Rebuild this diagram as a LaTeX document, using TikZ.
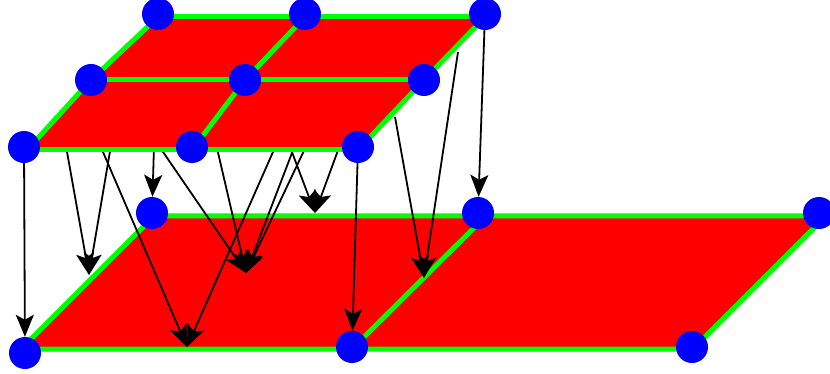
\documentclass[tikz,border=0pt]{standalone}
\usepackage{xcolor}
\usepackage{tikz}
\usetikzlibrary{arrows.meta}
\definecolor{facered}{RGB}{255,0,0}
\definecolor{edgegreen}{RGB}{0,255,0}
\definecolor{dotblue}{RGB}{0,0,255}
\pgfdeclarelayer{back}
\pgfdeclarelayer{front}
\pgfsetlayers{back,main,front}

\begin{document}
\begin{tikzpicture}[x=1pt, y=-1pt, >={Stealth[length=22pt, width=18pt, inset=5pt]},
    dot/.style={circle, fill=dotblue, minimum size=32pt, inner sep=0pt},
    map/.style={->, line width=1.8pt},
    cell/.style={fill=facered},
    rim/.style={draw=edgegreen, line width=5pt, line join=round}]
  \useasboundingbox (0,0) rectangle (830,374);

  % corners of the two complexes
  \coordinate (bf1) at (21,349); \coordinate (bf2) at (352,349); \coordinate (bf3) at (693,349);
  \coordinate (bb1) at (154,216); \coordinate (bb2) at (486,216); \coordinate (bb3) at (826,216);
  \coordinate (tf1) at (27,150); \coordinate (tf2) at (192,150); \coordinate (tf3) at (358,150);
  \coordinate (tm1) at (91,80); \coordinate (tm2) at (245,80); \coordinate (tm3) at (424,80);
  \coordinate (tb1) at (158,17); \coordinate (tb2) at (305,17); \coordinate (tb3) at (485,17);

  \begin{pgfonlayer}{back}
    \fill[cell] (bf1) -- (bf3) -- (bb3) -- (bb1) -- cycle;
    \draw[rim] (bf1) -- (bf3) -- (bb3) -- (bb1) -- cycle (bf2) -- (bb2);
  \end{pgfonlayer}

  \begin{pgfonlayer}{front}
    \fill[cell] (tf1) -- (tf3) -- (tm3) -- (tb3) -- (tb1) -- (tm1) -- cycle;
    \draw[rim] (tf1) -- (tf3) (tm1) -- (tm3) (tb1) -- (tb3);
    \draw[rim] (tf1) -- (tm1) -- (tb1) (tf2) -- (tm2) -- (tb2) (tf3) -- (tm3) -- (tb3);

    \node[dot] (vb1) at (158,14) {}; \node[dot] (vb2) at (305,14) {}; \node[dot] (vb3) at (485,14) {};
    \node[dot] (vm1) at (91,80) {}; \node[dot] (vm2) at (245,80) {}; \node[dot] (vm3) at (424,80) {};
    \node[dot] (vf1) at (24,147) {}; \node[dot] (vf2) at (192,147) {}; \node[dot] (vf3) at (358,147) {};

    \node[dot] (wb1) at (152,213) {}; \node[dot] (wb2) at (478,213) {}; \node[dot] (wb3) at (819,213) {};
    \node[dot] (wf1) at (25,353) {}; \node[dot] (wf2) at (352,347) {}; \node[dot] (wf3) at (692,347) {};
  \end{pgfonlayer}

  % images of edges and faces
  \coordinate (edgeL) at (89,275);
  \coordinate (edgeM) at (424,278);
  \coordinate (frontL) at (187,347);
  \coordinate (backL) at (315,213);
  \coordinate (faceL) at (246,273);

  \coordinate (ta) at (66.5,149); \coordinate (tb) at (110.4,149);
  \coordinate (tc) at (101.7,149); \coordinate (td) at (274.3,149);
  \coordinate (te) at (161,149); \coordinate (tf) at (217.2,149);
  \coordinate (tg) at (293.5,149); \coordinate (th) at (304.8,149);
  \coordinate (ti) at (290.8,149); \coordinate (tj) at (338.5,149);
  \coordinate (tk) at (395,117); \coordinate (tl) at (458,52);

  \draw[map] (vf1) -- (wf1);
  \draw[map] (vb1) -- (wb1);
  \draw[map] (vf3) -- (wf2);
  \draw[map] (vb3) -- (wb2);
  \draw[map] (ta) -- (edgeL); \draw[map] (tb) -- (edgeL);
  \draw[map] (tc) -- (frontL); \draw[map] (td) -- (frontL);
  \draw[map] (te) -- (faceL); \draw[map] (tf) -- (faceL);
  \draw[map] (tg) -- (faceL); \draw[map] (th) -- (faceL);
  \draw[map] (ti) -- (backL); \draw[map] (tj) -- (backL);
  \draw[map] (tk) -- (edgeM); \draw[map] (tl) -- (edgeM);
\end{tikzpicture}
\end{document}
